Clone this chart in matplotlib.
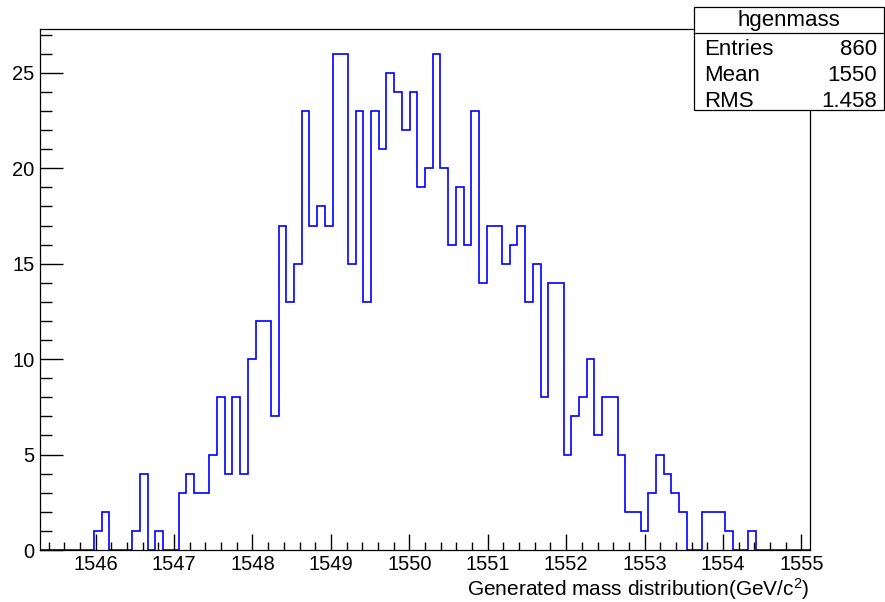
"""
ROOT-style histogram of hgenmass (generated mass distribution).
"""
import matplotlib
matplotlib.use("Agg")
import matplotlib.pyplot as plt
import numpy as np
from matplotlib.patches import Rectangle
from matplotlib.lines import Line2D
from matplotlib.ticker import MultipleLocator

plt.rcParams.update({
    "font.family": ["Liberation Sans", "DejaVu Sans"],
    "font.size": 14.5,
    "mathtext.fontset": "custom",
    "mathtext.rm": "Liberation Sans",
    "mathtext.it": "Liberation Sans:italic",
})

# Datos del histograma
X_MIN, X_MAX, N_BINS = 1545.29, 1555.11, 100
counts = [
    0, 0, 0, 0, 0, 0, 0, 1, 2, 0,
    0, 0, 1, 4, 0, 1, 0, 0, 3, 4,
    3, 3, 5, 8, 4, 8, 4, 10, 12, 12,
    7, 17, 13, 15, 23, 17, 18, 17, 26, 26,
    15, 23, 13, 23, 21, 25, 24, 22, 24, 19,
    20, 26, 20, 16, 19, 16, 23, 14, 17, 17,
    15, 16, 17, 13, 15, 8, 14, 14, 5, 7,
    8, 10, 6, 8, 8, 5, 2, 2, 1, 3,
    5, 4, 3, 2, 0, 0, 2, 2, 2, 1,
    0, 0, 1, 0, 0, 0, 0, 0, 0, 0,
]
hist_name = "hgenmass"
stat_labels = ["Entries", "Mean", "RMS"]
stat_values = ["860", "1550", "1.458"]
x_label = "Generated mass distribution(GeV/c$^{2}$)"

W, H = 885, 602
fig = plt.figure(figsize=(W / 100, H / 100), dpi=100)
ax = fig.add_axes([40 / W, 52 / H, 770 / W, 521 / H])

edges = np.linspace(X_MIN, X_MAX, N_BINS + 1)
ax.stairs(counts, edges, color="#0000ff", lw=1.2)

ax.set_xlim(X_MIN, X_MAX)
ax.set_ylim(0, max(counts) * 1.05)

ax.xaxis.set_major_locator(MultipleLocator(1))
ax.xaxis.set_minor_locator(MultipleLocator(0.2))
ax.yaxis.set_major_locator(MultipleLocator(5))
ax.yaxis.set_minor_locator(MultipleLocator(1))
ax.tick_params(axis="x", which="major", direction="in", length=11.2, width=1.0, pad=3.5, labelsize=14.5)
ax.tick_params(axis="x", which="minor", direction="in", length=5.6, width=1.0)
ax.tick_params(axis="y", which="major", direction="in", length=16.6, width=1.0, pad=4, labelsize=14.5)
ax.tick_params(axis="y", which="minor", direction="in", length=8.3, width=1.0)
for sp in ax.spines.values():
    sp.set_linewidth(0.9)

fig.text(810 / W, 1 - 596 / H, x_label, ha="right", va="baseline", fontsize=15)

# Caja de estadisticas
box_x0, box_x1 = 694 / W, 884 / W
box_y0, box_y1 = 1 - 110 / H, 1 - 7 / H
fig.add_artist(Rectangle((box_x0, box_y0), box_x1 - box_x0, box_y1 - box_y0,
                         transform=fig.transFigure, facecolor="white",
                         edgecolor="black", lw=0.9, zorder=5))
sep_y = 1 - 33 / H
fig.add_artist(Line2D([box_x0, box_x1], [sep_y, sep_y], transform=fig.transFigure,
                      color="black", lw=0.9, zorder=6))
fig.text((box_x0 + box_x1) / 2, 1 - 26 / H, hist_name, ha="center", va="baseline",
         fontsize=16, zorder=7)
for i, (lab, val) in enumerate(zip(stat_labels, stat_values)):
    y = 1 - (55 + i * 26) / H
    fig.text(704 / W, y, lab, ha="left", va="baseline", fontsize=16, zorder=7)
    fig.text(877 / W, y, val, ha="right", va="baseline", fontsize=16, zorder=7)

fig.savefig("out.png", dpi=100, facecolor="white")
plt.close(fig)
